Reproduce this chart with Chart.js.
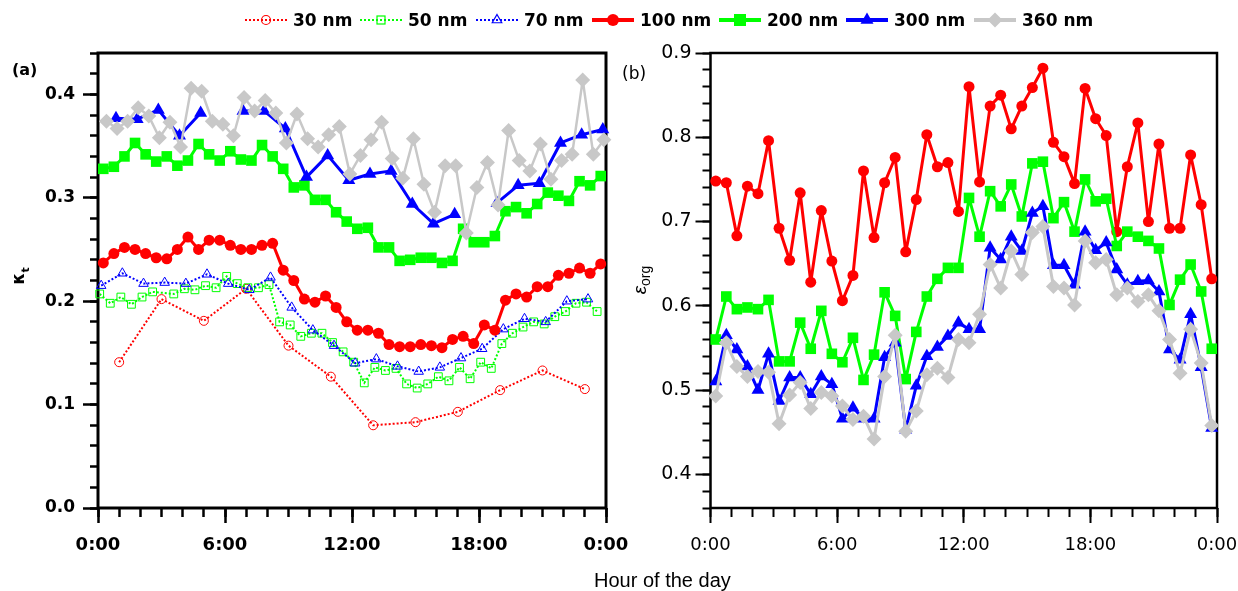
<!DOCTYPE html>
<html><head><meta charset="utf-8">
<script src="https://cdn.jsdelivr.net/npm/chart.js@4.4.1/dist/chart.umd.min.js"></script>
<style>
html,body{margin:0;padding:0;background:#fff}
body{width:1238px;height:591px;overflow:hidden;position:relative}
#ca{position:absolute;left:0;top:0}
#cb{position:absolute;left:620px;top:0}
.t{position:absolute;white-space:nowrap;color:#000;line-height:1}
.lg{position:absolute;top:10px;height:20px;display:flex;align-items:center;font:bold 17px 'DejaVu Sans';color:#000;white-space:nowrap}
.lg svg{margin-right:6px;flex:none}
</style></head><body>
<canvas id="ca" width="650" height="591"></canvas>
<canvas id="cb" width="618" height="591"></canvas>
<div id="legend"></div>
<div class="t" style="left:12px;top:60px;font:bold 16px 'DejaVu Sans'">(a)</div>
<div class="t" style="left:622px;top:63px;font:17px 'DejaVu Sans'">(b)</div>
<div class="t" style="left:20px;top:276px;transform:translate(-50%,-50%) rotate(-90deg);font:bold 17px 'DejaVu Sans'">κ<sub style="font-size:11px">t</sub></div>
<div class="t" style="left:641px;top:280px;transform:translate(-50%,-50%) rotate(-90deg);font:19px 'Liberation Sans'"><i>ε</i><sub style="font-size:14px">org</sub></div>
<div class="t" style="left:594px;top:569px;font:20px 'Liberation Sans'">Hour of the day</div>
<script>
// ---------- data ----------
const hourLabels = ['0:00','6:00','12:00','18:00','0:00'];
const seriesLabels = ['30 nm','50 nm','70 nm','100 nm','200 nm','300 nm','360 nm'];

const hoursHalf = [0.25,0.75,1.25,1.75,2.25,2.75,3.25,3.75,4.25,4.75,5.25,5.75,6.25,6.75,7.25,7.75,8.25,8.75,9.25,9.75,10.25,10.75,11.25,11.75,12.25,12.75,13.25,13.75,14.25,14.75,15.25,15.75,16.25,16.75,17.25,17.75,18.25,18.75,19.25,19.75,20.25,20.75,21.25,21.75,22.25,22.75,23.25,23.75];
const hours30 = [1,3,5,7,9,11,13,15,17,19,21,23];
const hours50 = [0.08,0.58,1.08,1.58,2.08,2.58,3.08,3.58,4.08,4.58,5.08,5.58,6.08,6.58,7.08,7.58,8.08,8.58,9.08,9.58,10.08,10.58,11.08,11.58,12.08,12.58,13.08,13.58,14.08,14.58,15.08,15.58,16.08,16.58,17.08,17.58,18.08,18.58,19.08,19.58,20.08,20.58,21.08,21.58,22.08,22.58,23.08,23.58];
const hours70 = [0.15,1.15,2.15,3.15,4.15,5.15,6.15,7.15,8.15,9.15,10.15,11.15,12.15,13.15,14.15,15.15,16.15,17.15,18.15,19.15,20.15,21.15,22.15,23.15];
const hours300 = [0.85,1.85,2.85,3.85,4.85,5.85,6.85,7.85,8.85,9.85,10.85,11.85,12.85,13.85,14.85,15.85,16.85,17.85,18.85,19.85,20.85,21.85,22.85,23.85];
const hours360 = [0.4,0.9,1.4,1.9,2.4,2.9,3.4,3.9,4.4,4.9,5.4,5.9,6.4,6.9,7.4,7.9,8.4,8.9,9.4,9.9,10.4,10.9,11.4,11.9,12.4,12.9,13.4,13.9,14.4,14.9,15.4,15.9,16.4,16.9,17.4,17.9,18.4,18.9,19.4,19.9,20.4,20.9,21.4,21.9,22.4,22.9,23.4,23.9];

// panel (a): kappa_t
const kappa30 = [0.141,0.202,0.181,0.212,0.157,0.127,0.080,0.083,0.093,0.114,0.133,0.115];
const kappa50 = [0.207,0.198,0.204,0.197,0.204,0.209,null,0.207,0.212,0.211,0.215,0.213,0.224,0.217,0.213,0.213,0.216,0.180,0.177,0.166,0.169,0.169,0.160,0.151,0.141,0.121,0.136,0.133,0.135,0.120,0.116,0.120,0.127,0.123,0.136,0.125,0.141,0.135,0.159,0.169,0.175,0.180,0.178,0.185,0.190,0.198,0.199,0.190];
const kappa70 = [0.215,0.227,0.217,0.218,0.217,0.226,0.217,0.211,0.223,0.194,0.172,0.157,0.140,0.144,0.137,0.132,0.136,0.145,0.154,0.173,0.183,0.180,0.200,0.202];
const kappa100 = [0.237,0.246,0.252,0.250,0.246,0.242,0.241,0.250,0.262,0.250,0.259,0.259,0.254,0.250,0.250,0.254,0.256,0.230,0.220,0.202,0.199,0.205,0.194,0.180,0.172,0.172,0.169,0.158,0.156,0.156,0.158,0.157,0.155,0.163,0.166,0.159,0.177,0.172,0.201,0.207,0.204,0.214,0.214,0.225,0.227,0.232,0.227,0.236];
const kappa200 = [0.328,0.330,0.340,0.353,0.342,0.335,0.340,0.331,0.336,0.352,0.342,0.336,0.345,0.337,0.336,0.351,0.340,0.328,0.310,0.312,0.298,0.298,0.286,0.277,0.270,0.271,0.252,0.252,0.239,0.240,0.242,0.242,0.237,0.239,0.270,0.257,0.257,0.263,0.287,0.291,0.285,0.294,0.305,0.302,0.297,0.316,0.312,0.321];
const kappa300 = [0.377,0.376,0.385,0.360,0.382,null,0.384,0.384,0.367,0.320,0.341,0.317,0.323,0.326,0.294,0.275,0.284,null,0.295,0.312,0.314,0.353,0.361,0.366];
const kappa360 = [0.374,0.367,0.374,0.387,0.379,0.358,0.373,0.349,0.406,0.403,0.374,0.371,0.360,0.397,0.384,0.394,0.382,0.353,0.381,0.357,0.349,0.361,0.369,0.323,0.341,0.356,0.373,0.338,0.319,0.357,0.313,0.286,0.331,0.331,0.266,0.310,0.334,0.293,0.365,0.336,0.326,0.352,0.318,0.336,0.342,0.414,0.342,0.356];

// panel (b): epsilon_org
const eps100 = [0.748,0.746,0.683,0.742,0.733,0.796,0.692,0.654,0.734,0.628,0.713,0.653,0.606,0.636,0.760,0.681,0.746,0.776,0.664,0.726,0.803,0.765,0.770,0.712,0.860,0.747,0.837,0.850,0.810,0.837,0.859,0.882,0.794,0.777,0.745,0.858,0.822,0.802,0.688,0.765,0.817,0.700,0.792,0.692,0.692,0.779,0.720,0.632];
const eps200 = [0.560,0.611,0.596,0.598,0.596,0.607,0.534,0.534,0.580,0.549,0.594,0.543,0.533,0.562,0.512,0.542,0.616,0.588,0.513,0.569,0.611,0.632,0.645,0.645,0.728,0.682,0.736,0.718,0.744,0.706,0.769,0.771,0.704,0.723,0.688,0.750,0.724,0.727,0.671,0.688,0.682,0.677,0.668,0.601,0.631,0.649,0.617,0.549];
const eps300 = [0.510,0.565,0.548,0.528,0.500,0.543,0.487,0.515,0.515,0.495,0.516,0.507,0.466,0.479,0.466,0.466,0.539,0.556,0.453,0.505,0.540,0.551,0.564,0.580,0.572,0.572,0.669,0.655,0.682,0.665,0.710,0.718,0.648,0.648,0.625,0.688,0.666,0.675,0.643,0.625,0.629,0.630,0.617,0.548,0.536,0.590,0.527,0.455];
const eps360 = [0.493,0.556,0.528,0.516,0.522,0.521,0.460,0.494,0.509,0.478,0.497,0.493,0.481,0.465,0.469,0.442,0.516,0.565,0.451,0.475,0.518,0.526,0.515,0.560,0.556,0.590,0.649,0.621,0.665,0.637,0.687,0.694,0.623,0.621,0.601,0.677,0.651,0.655,0.613,0.621,0.605,0.613,0.594,0.560,0.520,0.572,0.532,0.458];

// ---------- styles ----------
const RED='#ff0000', GREEN='#00ff00', BLUE='#0000ff', GRAY='#c8c8c8';
const styles = [
  {color:RED,   shape:'circle',   dotted:true},
  {color:GREEN, shape:'rect',     dotted:true},
  {color:BLUE,  shape:'triangle', dotted:true},
  {color:RED,   shape:'circle',   dotted:false},
  {color:GREEN, shape:'rect',     dotted:false},
  {color:BLUE,  shape:'triangle', dotted:false},
  {color:GRAY,  shape:'rectRot',  dotted:false}
];

function pts(hours, vals){ return hours.map((h,i)=>({x:h, y:vals[i]})); }
function dotted(idx, hours, vals, r){
  const s = styles[idx];
  return {label:seriesLabels[idx], data:pts(hours,vals), order:6-idx,
    borderColor:s.color, borderWidth:2, borderDash:[2,2], pointStyle:s.shape, pointRadius:r,
    pointBorderWidth:1, pointBorderColor:s.color, pointBackgroundColor:'rgba(255,255,255,0)',
    spanGaps:true, clip:false, tension:0, xAxisID:'x', yAxisID:'y'};
}
function solid(idx, hours, vals, r, w){
  const s = styles[idx];
  return {label:seriesLabels[idx], data:pts(hours,vals), order:6-idx,
    borderColor:s.color, borderWidth:w, borderJoinStyle:'round', borderCapStyle:'round',
    pointStyle:s.shape, pointRadius:r,
    pointBorderWidth:0, pointBorderColor:s.color, pointBackgroundColor:s.color,
    spanGaps:false, clip:false, tension:0, xAxisID:'x', yAxisID:'y'};
}

function makeScales(p){
  const font = {family:"'DejaVu Sans'", weight:p.weight};
  return {
    x:{type:'linear',position:'bottom',min:0,max:24,weight:1,
      ticks:{stepSize:6,includeBounds:false,autoSkip:false,maxRotation:0,minRotation:0,padding:p.xPad,color:'#000',
        font:Object.assign({size:p.xSize},font),callback:v=>hourLabels[Math.round(v/6)]},
      grid:{drawOnChartArea:false,tickLength:p.maj,tickWidth:p.tw,tickColor:'#000'},
      border:{display:false},
      afterFit:s=>{s.height=p.xH;s.paddingLeft=0;s.paddingRight=0;}},
    xm:{type:'linear',position:'bottom',min:0,max:24,weight:0,
      ticks:{display:false,stepSize:1,includeBounds:false,autoSkip:false},
      grid:{drawOnChartArea:false,tickLength:p.minX,tickWidth:p.tw,tickColor:'#000'},
      border:{display:false},
      afterFit:s=>{s.height=0;s.paddingLeft=0;s.paddingRight=0;}},
    y:{type:'linear',position:'left',min:p.ymin,max:p.ymax,weight:1,
      ticks:{stepSize:0.1,includeBounds:false,autoSkip:false,padding:p.yPad,color:'#000',
        font:Object.assign({size:p.ySize},font),callback:v=>v.toFixed(1)},
      grid:{drawOnChartArea:false,tickLength:p.maj,tickWidth:p.tw,tickColor:'#000'},
      border:{display:false},
      afterFit:s=>{s.width=p.yW;s.paddingTop=0;s.paddingBottom=0;}},
    ym:{type:'linear',position:'left',min:p.ymin,max:p.ymax,weight:0,
      ticks:{display:false,stepSize:0.02,includeBounds:false,autoSkip:false},
      grid:{drawOnChartArea:false,tickLength:p.minY,tickWidth:p.tw,tickColor:'#000'},
      border:{display:false},
      afterFit:s=>{s.width=0;s.paddingTop=0;s.paddingBottom=0;}}
  };
}

const framePlugin = {id:'frame', beforeDatasetsDraw(chart, args, opts){
  const {ctx, chartArea:a} = chart;
  ctx.save(); ctx.strokeStyle='#000'; ctx.lineWidth=opts.width;
  ctx.strokeRect(a.left, a.top, a.right-a.left, a.bottom-a.top);
  ctx.restore();
}};

function baseOptions(scales, pad, fw){
  return {responsive:false, animation:false, events:[],
    layout:{padding:pad},
    plugins:{legend:{display:false}, tooltip:{enabled:false}, frame:{width:fw}},
    scales};
}

new Chart(document.getElementById('ca'), {
  type:'line',
  data:{datasets:[
    dotted(0, hours30, kappa30, 4.5),
    dotted(1, hours50, kappa50, 5.5),
    dotted(2, hours70, kappa70, 5.5),
    solid(3, hoursHalf, kappa100, 5.5, 3),
    solid(4, hoursHalf, kappa200, 7.5, 3),
    solid(5, hours300, kappa300, 7.5, 3),
    solid(6, hours360, kappa360, 7.5, 2.5)
  ]},
  options: baseOptions(makeScales({weight:'bold', xSize:18, ySize:17, xPad:12, yPad:8, maj:15, minX:9, minY:8, tw:2.5,
    xH:50, yW:98, ymin:0, ymax:0.44}), {left:0,right:44,top:53,bottom:33}, 3),
  plugins:[framePlugin]
});

new Chart(document.getElementById('cb'), {
  type:'line',
  data:{datasets:[
    solid(3, hoursHalf, eps100, 5.5, 3),
    solid(4, hoursHalf, eps200, 7.5, 3),
    solid(5, hoursHalf, eps300, 7.5, 3),
    solid(6, hoursHalf, eps360, 7.5, 3)
  ]},
  options: baseOptions(makeScales({weight:'normal', xSize:18, ySize:19, xPad:12, yPad:4, maj:15, minX:9, minY:8, tw:2,
    xH:50, yW:90.5, ymin:0.36, ymax:0.9}), {left:0,right:21,top:53,bottom:33}, 2.5),
  plugins:[framePlugin]
});

// ---------- legend ----------
const legendTextLeft = [293,408,524,640,767,894,1022];
function markerSVG(s, cx, cy){
  const fill = s.dotted ? 'none' : s.color;
  const st = s.dotted ? `stroke="${s.color}" stroke-width="1.2"` : 'stroke="none"';
  if (s.shape==='circle'){ const r = s.dotted?4.5:6; return `<circle cx="${cx}" cy="${cy}" r="${r}" fill="${fill}" ${st}/>`; }
  if (s.shape==='rect'){ const h = s.dotted?4:6; return `<rect x="${cx-h}" y="${cy-h}" width="${2*h}" height="${2*h}" fill="${fill}" ${st}/>`; }
  if (s.shape==='triangle'){ const r = s.dotted?5.5:7.5; const a=r*0.866, b=r*0.5;
    return `<polygon points="${cx},${cy-r} ${cx+a},${cy+b} ${cx-a},${cy+b}" fill="${fill}" ${st}/>`; }
  const r=7.5; return `<polygon points="${cx},${cy-r} ${cx+r},${cy} ${cx},${cy+r} ${cx-r},${cy}" fill="${fill}" ${st}/>`;
}
const lg = document.getElementById('legend');
styles.forEach((s,i)=>{
  const d = document.createElement('div');
  d.className='lg'; d.style.left=(legendTextLeft[i]-48)+'px';
  const line = s.dotted
    ? `<line x1="0" y1="10" x2="42" y2="10" stroke="${s.color}" stroke-width="2" stroke-dasharray="2 2"/>`
    : `<line x1="0" y1="10" x2="42" y2="10" stroke="${s.color}" stroke-width="4"/>`;
  d.innerHTML = `<svg width="42" height="20" viewBox="0 0 42 20">${line}${markerSVG(s,21,10)}</svg><span>${seriesLabels[i]}</span>`;
  lg.appendChild(d);
});
</script>
</body></html>
